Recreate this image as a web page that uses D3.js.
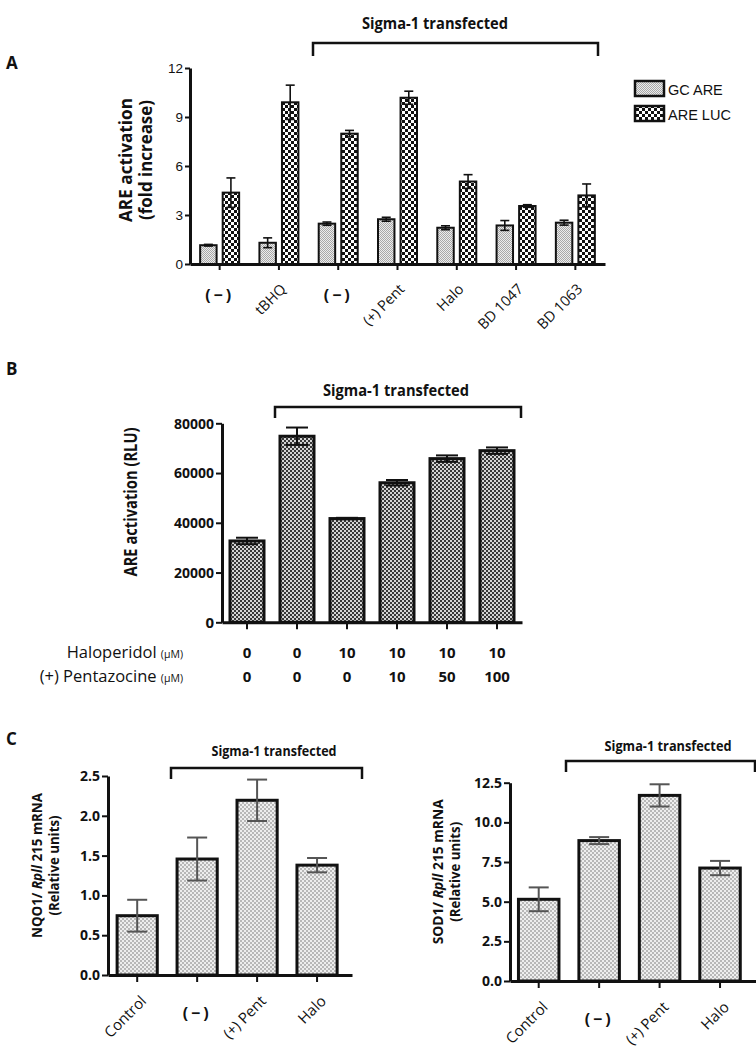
<!DOCTYPE html>
<html><head><meta charset="utf-8">
<script src="https://cdn.jsdelivr.net/npm/d3@7"></script>
<style>body{margin:0;background:#fff} svg{display:block} text{font-family:"Open Sans","Noto Sans",sans-serif;fill:#111}</style>
</head><body><svg id="c" width="756" height="1050"></svg>
<script>
// ---------- data ----------
const aCategories = ["(−)","tBHQ","(−)","(+) Pent","Halo","BD 1047","BD 1063"];
const aSeries = ["GC ARE","ARE LUC"];
const aGC = [1.15,1.3,2.47,2.74,2.22,2.36,2.53];
const aGCerr = [0.05,0.3,0.1,0.12,0.12,0.3,0.15];
const aLUC = [4.37,9.9,7.98,10.18,5.05,3.55,4.2];
const aLUCerr = [0.9,1.05,0.2,0.4,0.42,0.08,0.7];
const aTicks = [0,3,6,9,12];

const bHalo = ["0","0","10","10","10","10"];
const bPent = ["0","0","0","10","50","100"];
const bValues = [32700,74800,41700,56100,65800,69000];
const bErr = [1300,3500,300,1100,1300,1300];
const bTicks = [0,20000,40000,60000,80000];

const cCategories = ["Control","(−)","(+) Pent","Halo"];
const cNQO1 = [0.745,1.457,2.195,1.38];
const cNQO1err = [0.2,0.27,0.26,0.09];
const cNQO1Ticks = [0,0.5,1,1.5,2,2.5];
const cSOD1 = [5.15,8.85,11.7,7.12];
const cSOD1err = [0.75,0.22,0.7,0.45];
const cSOD1Ticks = [0,2.5,5,7.5,10,12.5];

// ---------- setup ----------
const svg = d3.select("#c");
const defs = svg.append("defs");
function checker(id, size, c1, c2){
  const p = defs.append("pattern").attr("id",id).attr("patternUnits","userSpaceOnUse")
    .attr("width",size*2).attr("height",size*2);
  p.append("rect").attr("width",size*2).attr("height",size*2).attr("fill",c2);
  p.append("rect").attr("width",size).attr("height",size).attr("fill",c1);
  p.append("rect").attr("x",size).attr("y",size).attr("width",size).attr("height",size).attr("fill",c1);
}
checker("pGC",1,"#a8a8a8","#ececec");
checker("pLUC",3,"#111","#fff");
checker("pB",2,"#383838","#d4d4d4");
checker("pC",2,"#b8b8b8","#eeeeee");
const patFor = {"GC ARE":"url(#pGC)","ARE LUC":"url(#pLUC)"};

function fit(t, w){
  const l = t.node().getComputedTextLength();
  if (Math.abs(l-w)/w > 0.02) t.attr("textLength", w).attr("lengthAdjust","spacingAndGlyphs");
  return t;
}
function styleAxis(g, fontFamily, fontSize, fontWeight, lw){
  g.select(".domain").attr("stroke","#111").attr("stroke-width",lw);
  g.selectAll(".tick line").attr("stroke","#111").attr("stroke-width",2);
  g.selectAll(".tick text").attr("fill","#111").style("font-family",fontFamily)
    .style("font-size",fontSize+"px").style("font-weight",fontWeight);
}
function bracket(x1, x2, y, drop, label, tx, ty, size, w){
  svg.append("path").attr("d",`M${x1},${y+drop}V${y}H${x2}V${y+drop}`)
    .attr("fill","none").attr("stroke","#111").attr("stroke-width",2.5);
  fit(svg.append("text").attr("x",tx).attr("y",ty).attr("text-anchor","middle")
    .style("font-size",size+"px").style("font-weight",700).text(label), w);
}
function panelLabel(t, x, y){
  svg.append("text").attr("x",x).attr("y",y).style("font-size","17px").style("font-weight",700).text(t);
}
function errBar(g, cx, y, v, e, cap, color, lw){
  g.append("line").attr("x1",cx).attr("x2",cx).attr("y1",y(v-e)).attr("y2",y(v+e)).attr("stroke",color).attr("stroke-width",lw);
  [v-e, v+e].forEach(q=>g.append("line").attr("x1",cx-cap/2).attr("x2",cx+cap/2).attr("y1",y(q)).attr("y2",y(q)).attr("stroke",color).attr("stroke-width",lw));
}

// ---------- Panel A ----------
panelLabel("A", 6, 69);
{
  const x = d3.scaleBand().domain(aCategories.map((d,i)=>i)).range([190,605]).padding(0);
  const xs = d3.scaleBand().domain(aSeries).range([-19.5,19.5]).paddingInner(0.27);
  const y = d3.scaleLinear().domain([0,12]).range([264,68]);
  const vals = {"GC ARE":aGC,"ARE LUC":aLUC}, errs = {"GC ARE":aGCerr,"ARE LUC":aLUCerr};
  const g = svg.append("g");
  aSeries.forEach(s=>{
    aCategories.forEach((c,i)=>{
      const cx = x(i)+x.bandwidth()/2 + xs(s);
      g.append("rect").attr("x",cx).attr("y",y(vals[s][i])).attr("width",xs.bandwidth())
        .attr("height",y(0)-y(vals[s][i])).attr("fill",patFor[s]).attr("stroke","#111").attr("stroke-width",2);
      errBar(g, cx+xs.bandwidth()/2, y, vals[s][i], errs[s][i], 9, "#111", 1.6);
    });
  });
  const ya = svg.append("g").attr("transform","translate(190,0)")
    .call(d3.axisLeft(y).tickValues(aTicks).tickSize(5).tickSizeOuter(0).tickPadding(2));
  styleAxis(ya, '"Liberation Sans",Arial,sans-serif', 13.5, 400, 3);
  const xa = svg.append("g").attr("transform",`translate(0,${y(0)})`)
    .call(d3.axisBottom(x).tickSize(6).tickSizeOuter(0).tickFormat(""));
  styleAxis(xa, "sans-serif", 12, 400, 3);
  aCategories.forEach((c,i)=>{
    const cx = x(i)+x.bandwidth()/2;
    if (c === "(−)") {
      svg.append("text").attr("x",cx).attr("y",301).attr("text-anchor","middle")
        .style("font-size","16px").style("font-weight",700).style("letter-spacing","3px").text(c);
    } else {
      svg.append("text").attr("transform",`translate(${cx+8},290) rotate(-45)`).attr("text-anchor","end")
        .style("font-size","14.5px").text(c);
    }
  });
  fit(svg.append("text").attr("transform","translate(132,160) rotate(-90)").attr("text-anchor","middle")
    .style("font-size","18px").style("font-weight",700).text("ARE activation"),124);
  fit(svg.append("text").attr("transform","translate(152,160) rotate(-90)").attr("text-anchor","middle")
    .style("font-size","18px").style("font-weight",700).text("(fold increase)"),120);
  bracket(313, 598, 43, 13, "Sigma-1 transfected", 435, 29, 16, 146);
  aSeries.forEach((s,i)=>{
    svg.append("rect").attr("x",635).attr("y",81+i*25).attr("width",29).attr("height",15)
      .attr("fill",patFor[s]).attr("stroke","#111").attr("stroke-width",2.5);
    svg.append("text").attr("x",668).attr("y",95+i*25).style("font-family",'"Liberation Sans",Arial,sans-serif')
      .style("font-size","14.5px").text(s);
  });
}

// ---------- Panel B ----------
panelLabel("B", 6, 375);
{
  const x = d3.scaleBand().domain(bValues.map((d,i)=>i)).range([222,522]).paddingInner(0.32).paddingOuter(0.16);
  const y = d3.scaleLinear().domain([0,80000]).range([622.3,423.3]);
  const g = svg.append("g");
  bValues.forEach((v,i)=>{
    g.append("rect").attr("x",x(i)).attr("y",y(v)).attr("width",x.bandwidth()).attr("height",y(0)-y(v))
      .attr("fill","url(#pB)").attr("stroke","#111").attr("stroke-width",3);
    errBar(g, x(i)+x.bandwidth()/2, y, v, bErr[i], 22, "#111", 2);
  });
  const ya = svg.append("g").attr("transform","translate(222,0)")
    .call(d3.axisLeft(y).tickValues(bTicks).tickSize(6).tickSizeOuter(0).tickPadding(2).tickFormat(d3.format("d")));
  styleAxis(ya, '"Open Sans",sans-serif', 15, 700, 3);
  ya.selectAll(".tick text").filter(d=>d>0).each(function(){ fit(d3.select(this), 40); });
  const xa = svg.append("g").attr("transform",`translate(0,${y(0)})`)
    .call(d3.axisBottom(x).tickSize(7).tickSizeOuter(0).tickFormat(""));
  styleAxis(xa, "sans-serif", 12, 400, 3);
  fit(svg.append("text").attr("transform","translate(137,502) rotate(-90)").attr("text-anchor","middle")
    .style("font-size","17px").style("font-weight",700).text("ARE activation (RLU)"),149);
  const rows = [["Haloperidol", bHalo, 658],["(+) Pentazocine", bPent, 682]];
  rows.forEach(([lab, arr, yy])=>{
    const t = svg.append("text").attr("x",183).attr("y",yy).attr("text-anchor","end").style("font-size","16.5px");
    t.append("tspan").text(lab + " ");
    t.append("tspan").style("font-size","10.5px").text("(μM)");
    arr.forEach((v,i)=>svg.append("text").attr("x",x(i)+x.bandwidth()/2).attr("y",yy).attr("text-anchor","middle")
      .style("font-size","15px").style("font-weight",700).text(v));
  });
  bracket(275, 521, 407, 11, "Sigma-1 transfected", 396, 396, 16, 146);
}

// ---------- Panel C ----------
panelLabel("C", 6, 745);
function panelC(vals, errs, ticks, dom, xr, yr, align, yLabel1, yLabX, bx1, bx2, by, tx, ty, tw){
  const x = d3.scaleBand().domain(cCategories).range(xr).paddingInner(0.33).paddingOuter(0.2).align(align);
  const y = d3.scaleLinear().domain(dom).range(yr);
  const g = svg.append("g");
  vals.forEach((v,i)=>{
    const c = cCategories[i];
    g.append("rect").attr("x",x(c)).attr("y",y(v)).attr("width",x.bandwidth()).attr("height",y(0)-y(v))
      .attr("fill","url(#pC)").attr("stroke","#111").attr("stroke-width",3);
    errBar(g, x(c)+x.bandwidth()/2, y, v, errs[i], 20, "#555", 2);
  });
  const ya = svg.append("g").attr("transform",`translate(${xr[0]},0)`)
    .call(d3.axisLeft(y).tickValues(ticks).tickSize(6).tickSizeOuter(0).tickPadding(2).tickFormat(d3.format(".1f")));
  styleAxis(ya, '"Open Sans",sans-serif', 14, 700, 3);
  const xa = svg.append("g").attr("transform",`translate(0,${y(0)})`)
    .call(d3.axisBottom(x).tickSize(7).tickSizeOuter(0).tickFormat(""));
  styleAxis(xa, "sans-serif", 12, 400, 3);
  cCategories.forEach(c=>{
    const cx = x(c)+x.bandwidth()/2;
    if (c === "(−)") {
      svg.append("text").attr("x",cx).attr("y",yr[0]+44).attr("text-anchor","middle")
        .style("font-size","16px").style("font-weight",700).style("letter-spacing","3px").text(c);
    } else {
      svg.append("text").attr("transform",`translate(${cx+10},${yr[0]+27}) rotate(-45)`).attr("text-anchor","end")
        .style("font-size","15px").text(c);
    }
  });
  const cy = (yr[0]+yr[1])/2 - 10;
  const t1 = svg.append("text").attr("transform",`translate(${yLabX},${cy}) rotate(-90)`).attr("text-anchor","middle")
    .style("font-size","15px").style("font-weight",700);
  t1.append("tspan").text(yLabel1 + "/ ");
  t1.append("tspan").style("font-style","italic").text("Rpll");
  t1.append("tspan").text(" 215 mRNA");
  fit(t1, 145);
  fit(svg.append("text").attr("transform",`translate(${yLabX+17},${cy}) rotate(-90)`).attr("text-anchor","middle")
    .style("font-size","15px").style("font-weight",700).text("(Relative units)"), 100);
  bracket(bx1, bx2, by, 11, "Sigma-1 transfected", tx, ty, 15, tw);
}
panelC(cNQO1, cNQO1err, cNQO1Ticks, [0,2.5], [108,352], [975,776], 0.38, "NQO1", 42, 171, 362, 768, 274, 756, 125);
panelC(cSOD1, cSOD1err, cSOD1Ticks, [0,12.5], [510,756], [981,782.7], 0.35, "SOD1", 443, 566, 755, 761, 668, 751, 127);
</script></body></html>
